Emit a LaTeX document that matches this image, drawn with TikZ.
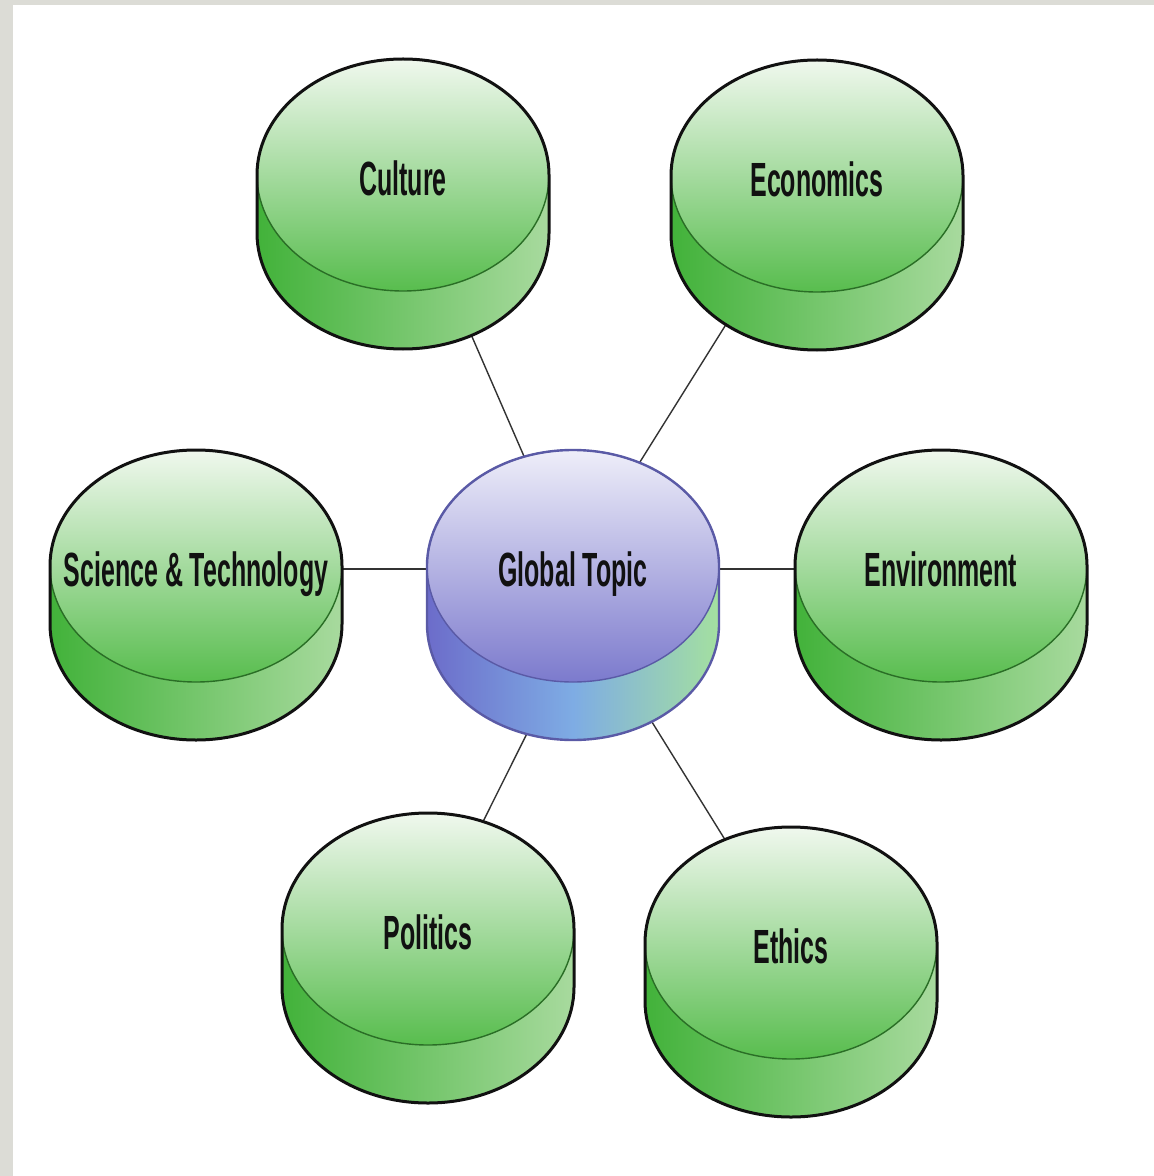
\documentclass[tikz,border=0pt]{standalone}
\usepackage{fontspec}
\newfontfamily\discfont[FakeStretch=0.52]{Liberation Sans}
\usetikzlibrary{backgrounds}
\definecolor{cFrame}{HTML}{DCDCD6}
\definecolor{cInk}{HTML}{111111}
\definecolor{cLink}{HTML}{333333}
\definecolor{cGreenT}{HTML}{F0F8EE}
\definecolor{cGreenB}{HTML}{58BD4E}
\definecolor{cGreenD}{HTML}{42B23A}
\definecolor{cGreenL}{HTML}{A8DA9E}
\definecolor{cGreenE}{HTML}{2A6E26}
\definecolor{cBlueT}{HTML}{EEEEF9}
\definecolor{cBlueB}{HTML}{7C7ACD}
\definecolor{cBlueD}{HTML}{6C6CCA}
\definecolor{cBlueM}{HTML}{7EACE4}
\definecolor{cBlueR}{HTML}{A4E0A0}
\definecolor{cBlueE}{HTML}{5A5AA6}
\tikzset{
  sideg/.style={left color=cGreenD, right color=cGreenL},
  topg/.style={top color=cGreenT, bottom color=cGreenB, draw=cGreenE, line width=0.7pt},
  rimg/.style={draw=cInk, line width=1.5pt, line join=round},
  sideb/.style={left color=cBlueD, right color=cBlueR, middle color=cBlueM},
  topb/.style={top color=cBlueT, bottom color=cBlueB, draw=cBlueE, line width=0.7pt},
  rimb/.style={draw=cBlueE, line width=1.2pt, line join=round},
  lbl/.style={font=\discfont\bfseries\fontsize{24}{28}\selectfont, text=cInk, inner sep=0pt, text depth=0pt},
  link/.style={draw=cLink, line width=0.7pt},
}
% one disc: name, x, y (pixels, top ellipse centre), label, colour set g|b
\newcommand\disc[5]{%
  \path[side#5] (#2-146,-#3) -- ++(0,-58) arc[start angle=180,end angle=360,x radius=146,y radius=116]
    -- ++(0,58) arc[start angle=0,end angle=-180,x radius=146,y radius=116] -- cycle;
  \path[top#5] (#2,-#3) ellipse[x radius=146,y radius=116];
  \draw[rim#5] (#2-146,-#3) -- ++(0,-58) arc[start angle=180,end angle=360,x radius=146,y radius=116]
    -- ++(0,58) arc[start angle=0,end angle=180,x radius=146,y radius=116] -- cycle;
  \node[lbl] (#1) at (#2,-#3-3) {#4};
}

\begin{document}
\begin{tikzpicture}[x=0.5pt,y=0.5pt]
\disc{cul}{403}{175}{Culture}{g}
\disc{eco}{817}{176}{Economics}{g}
\disc{sci}{196}{566}{Science \& Technology}{g}
\disc{env}{941}{566}{Environment}{g}
\disc{pol}{428}{929}{Politics}{g}
\disc{eth}{791}{943}{Ethics}{g}
\disc{glob}{573}{566}{Global Topic}{b}
\begin{pgfonlayer}{background}
\fill[cFrame] (0,0) rectangle (1154,-1176);
\fill[white] (13,-5) rectangle (1154,-1176);
\draw[link] (glob.center) -- (cul.center);
\draw[link] (glob.center) -- (eco.center);
\draw[link] (glob.center) -- (sci.center);
\draw[link] (glob.center) -- (env.center);
\draw[link] ([xshift=18pt]glob.center) -- (pol.center);
\draw[link] ([xshift=-8pt]glob.center) -- (eth.center);
\end{pgfonlayer}
\end{tikzpicture}
\end{document}
